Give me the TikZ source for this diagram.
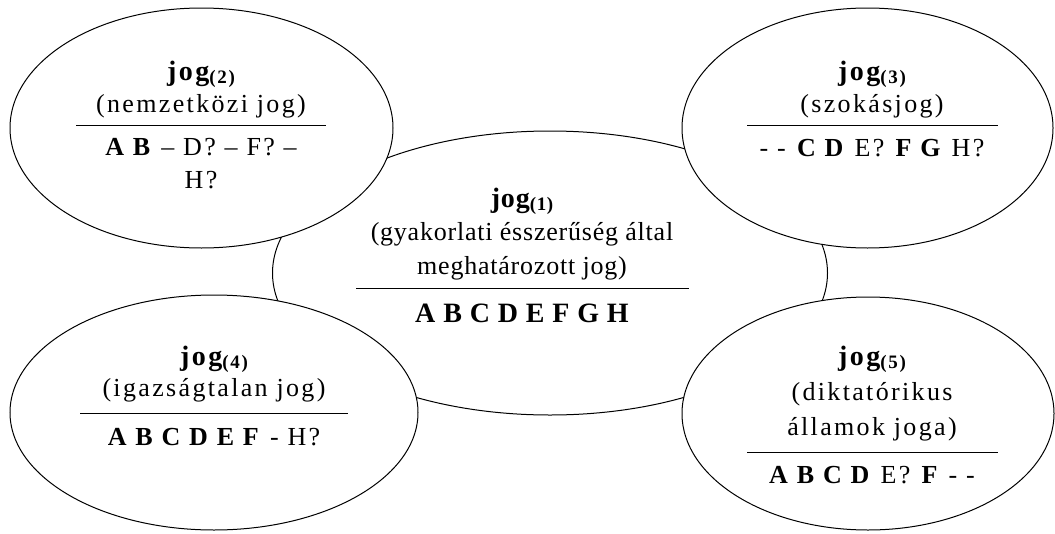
\documentclass[tikz,border=0pt]{standalone}
\usepackage{fontspec}
\setmainfont{Liberation Serif}[LetterSpace=3]
\newfontfamily\widefont{Liberation Serif}[LetterSpace=9]
\usetikzlibrary{shapes.geometric}
\tikzset{
  blob/.style={ellipse, draw=black, line width=1pt, fill=white, inner sep=0pt, outer sep=0pt},
  txt/.style={anchor=base, inner sep=0pt, font=\fontsize{26}{30}\selectfont},
  ctxt/.style={anchor=base, inner sep=0pt, font=\widefont\fontsize{26}{30}\selectfont},
  rulel/.style={line width=1pt},
}
\newcommand{\jogsub}[1]{{\fontsize{28}{30}\selectfont\bfseries jog}\raisebox{-3pt}{\fontsize{19}{20}\selectfont\bfseries(#1)}}
\begin{document}
\begin{tikzpicture}[x=1pt,y=-1pt]
\useasboundingbox[fill=white] (0,0) rectangle (1055,533);
% ellipses
\node[blob, minimum width=555pt, minimum height=284pt] (e1) at (550,273) {};
\node[blob, minimum width=383pt, minimum height=240pt] (e2) at (201.5,128) {};
\node[blob, minimum width=371pt, minimum height=240pt] (e3) at (867.5,128) {};
\node[blob, minimum width=408pt, minimum height=235pt] (e4) at (214,412.5) {};
\node[blob, minimum width=372pt, minimum height=233pt] (e5) at (868,413.5) {};
% centre
\node[txt] (t1a) at (522,207) {\jogsub{1}};
\node[txt] (t1b) at (522,240) {(gyakorlati ésszerűség által};
\node[txt] (t1c) at (522,274) {meghatározott jog)};
\draw[rulel] (356,288) -- (689,288);
\node[txt] (t1d) at (522,322) {\fontsize{28}{30}\selectfont\bfseries A B C D E F G H};
% top left
\node[ctxt] (t2a) at (201,80) {\jogsub{2}};
\node[ctxt] (t2b) at (201,112) {(nemzetközi jog)};
\draw[rulel] (76,125) -- (326,125);
\node[ctxt] (t2c) at (201,155) {\textbf{A B} – D? – F? –};
\node[ctxt] (t2d) at (201,188) {H?};
% top right
\node[ctxt] (t3a) at (872,80) {\jogsub{3}};
\node[ctxt] (t3b) at (872,112) {(szokásjog)};
\draw[rulel] (747,125) -- (998,125);
\node[ctxt] (t3c) at (872,156) {- - \textbf{C D} E? \textbf{F G} H?};
% bottom left
\node[ctxt] (t4a) at (214,365) {\jogsub{4}};
\node[ctxt] (t4b) at (214,396) {(igazságtalan jog)};
\draw[rulel] (80,413) -- (348,413);
\node[ctxt] (t4c) at (214,445) {\textbf{A B C D E F} - H?};
% bottom right
\node[ctxt] (t5a) at (872,365) {\jogsub{5}};
\node[ctxt] (t5b) at (872,400) {(diktatórikus};
\node[ctxt] (t5c) at (872,435) {államok joga)};
\draw[rulel] (747,452) -- (998,452);
\node[ctxt] (t5d) at (872,483) {\textbf{A B C D} E? \textbf{F} - -};
\end{tikzpicture}
\end{document}
